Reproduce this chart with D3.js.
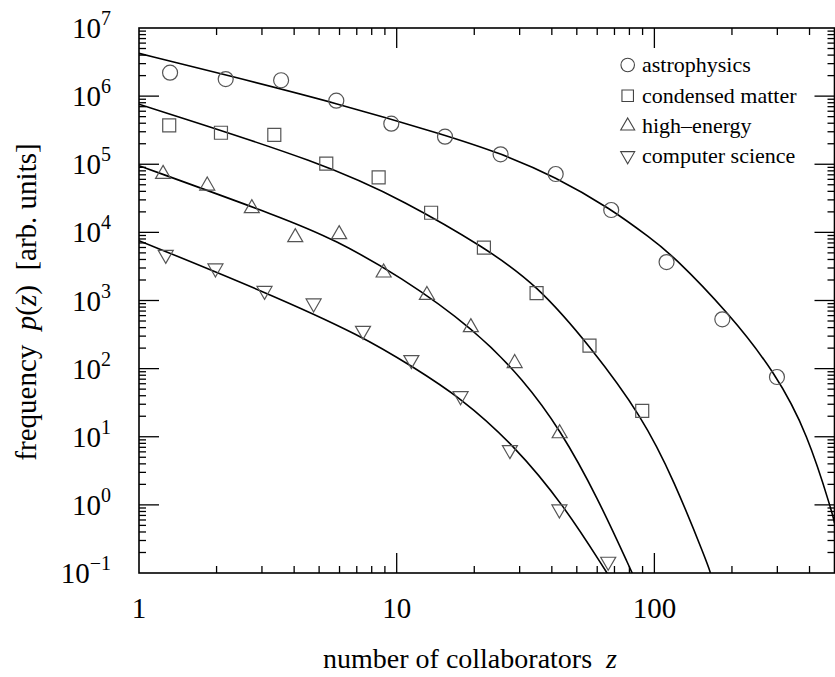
<!DOCTYPE html>
<html>
<head>
<meta charset="utf-8">
<script src="https://cdn.jsdelivr.net/npm/d3@7"></script>
<style>
  html, body { margin: 0; padding: 0; background: #fff; }
  svg { display: block; }
  text { font-family: "Liberation Serif", "Times New Roman", "DejaVu Serif", serif; fill: #000; }
</style>
</head>
<body>
<svg id="chart" width="835" height="677"></svg>
<script>
// ---------------- DATA ----------------
const seriesNames = ["astrophysics", "condensed matter", "high\u2013energy", "computer science"];

const astroZ = [1.32, 2.17, 3.56, 5.83, 9.53, 15.4, 25.3, 41.4, 68.0, 111.5, 183.5, 299];
const astroP = [2.21e6, 1.78e6, 1.71e6, 8.57e5, 3.94e5, 2.54e5, 1.40e5, 7.19e4, 2.13e4, 3.67e3, 530, 75.3];

const condZ = [1.31, 2.08, 3.35, 5.33, 8.51, 13.6, 21.8, 34.9, 56.0, 89.7];
const condP = [3.73e5, 2.90e5, 2.69e5, 1.02e5, 6.43e4, 1.94e4, 5.96e3, 1.28e3, 217, 23.9];

const heZ = [1.24, 1.84, 2.74, 4.04, 5.98, 8.90, 13.1, 19.4, 28.7, 42.9];
const heP = [7.19e4, 4.84e4, 2.26e4, 8.47e3, 9.37e3, 2.56e3, 1.20e3, 404, 120, 11.2];

const csZ = [1.27, 1.98, 3.07, 4.76, 7.40, 11.4, 17.7, 27.5, 42.8, 66.2];
const csP = [4.70e3, 2.97e3, 1.39e3, 910, 360, 134, 39.6, 6.39, 0.861, 0.147];

// fitted curves
const astroFitZ = [1, 2.18, 5.83, 15.4, 25.3, 41.3, 68.0, 96.7, 117.4, 194.8, 295.7, 392.6, 491, 500];
const astroFitP = [4.25e6, 2.04e6, 7.93e5, 2.69e5, 1.45e5, 6.56e4, 2.20e4, 8.18e3, 4.66e3, 649, 85.4, 11.2, 0.752, 0.54];

const condFitZ = [1, 5.33, 10.8, 21.8, 35.1, 56.5, 89.7, 119, 160.6, 165];
const condFitP = [7.59e5, 1.01e5, 2.82e4, 6.10e3, 1.69e3, 210, 19.7, 2.32, 0.139, 0.1];

const heFitZ = [1, 3.75, 5.69, 10.3, 20.2, 31.1, 43.2, 60.0, 82.1];
const heFitP = [9.52e4, 1.56e4, 7.91e3, 2.29e3, 369, 68.1, 12.6, 1.32, 0.099];

const csFitZ = [1, 3.07, 7.44, 11.5, 17.7, 28.5, 44.5, 65.6];
const csFitP = [7.55e3, 1.35e3, 294, 107, 37.7, 7.57, 0.995, 0.099];

const xTickValues = [1, 10, 100];
const xTickLabels = ["1", "10", "100"];
const yTickExponents = [-1, 0, 1, 2, 3, 4, 5, 6, 7];

// ---------------- CHART ----------------
const svg = d3.select("#chart");
const L = 139, R = 834.5, T = 28, B = 573;
const x = d3.scaleLog().domain([1, 500]).range([L, R]);
const y = d3.scaleLog().domain([0.1, 1e7]).range([B, T]);

svg.append("defs").append("clipPath").attr("id", "plotclip")
  .append("rect").attr("x", L).attr("y", T).attr("width", R - L).attr("height", B - T);

const isMajor = v => Math.abs(Math.log10(v) - Math.round(Math.log10(v))) < 1e-9;
const MAJ = 20, MIN = 7;

const axes = svg.append("g").attr("stroke", "#000").attr("stroke-width", 1.3);
// x ticks (bottom and top)
x.ticks().forEach(v => {
  const px = x(v), len = isMajor(v) ? MAJ : MIN;
  if (px <= L + 0.5 || px >= R - 0.5) return;
  axes.append("line").attr("x1", px).attr("x2", px).attr("y1", B).attr("y2", B - len);
  axes.append("line").attr("x1", px).attr("x2", px).attr("y1", T).attr("y2", T + len);
});
// y ticks (left and right)
y.ticks().forEach(v => {
  const py = y(v), len = isMajor(v) ? MAJ : MIN;
  if (py <= T + 0.5 || py >= B - 0.5) return;
  axes.append("line").attr("y1", py).attr("y2", py).attr("x1", L).attr("x2", L + len);
  axes.append("line").attr("y1", py).attr("y2", py).attr("x1", R).attr("x2", R - len);
});
// frame
svg.append("rect").attr("x", L).attr("y", T).attr("width", R - L).attr("height", B - T)
  .attr("fill", "none").attr("stroke", "#000").attr("stroke-width", 1.6);

// x tick labels
xTickValues.forEach((v, i) => {
  svg.append("text").attr("x", x(v)).attr("y", 618).attr("text-anchor", "middle")
    .attr("font-size", 29).text(xTickLabels[i]);
});
// y tick labels
yTickExponents.forEach(e => {
  const t = svg.append("text").attr("x", 111).attr("y", y(Math.pow(10, e)) + 10)
    .attr("text-anchor", "end").attr("font-size", 29);
  t.append("tspan").text("10");
  t.append("tspan").attr("dy", -13).attr("font-size", 20).text(e < 0 ? "\u2212" + Math.abs(e) : String(e));
});

// axis titles
const xt = svg.append("text").attr("x", 470).attr("y", 668).attr("text-anchor", "middle")
  .attr("font-size", 28);
xt.append("tspan").text("number of collaborators\u00a0\u00a0");
xt.append("tspan").attr("font-style", "italic").text("z");

const yt = svg.append("text").attr("transform", "translate(36,302) rotate(-90)")
  .attr("text-anchor", "middle").attr("font-size", 29);
yt.append("tspan").text("frequency\u00a0\u00a0");
yt.append("tspan").attr("font-style", "italic").text("p");
yt.append("tspan").text("(");
yt.append("tspan").attr("font-style", "italic").text("z");
yt.append("tspan").text(")\u00a0\u00a0[arb. units]");

// fitted curves
const line = d3.line().x(d => x(d[0])).y(d => y(d[1])).curve(d3.curveBasis);
const fits = [[astroFitZ, astroFitP], [condFitZ, condFitP], [heFitZ, heFitP], [csFitZ, csFitP]];
const curves = svg.append("g").attr("clip-path", "url(#plotclip)");
fits.forEach(([zs, ps]) => {
  curves.append("path").datum(zs.map((z, i) => [z, ps[i]]))
    .attr("d", line).attr("fill", "none").attr("stroke", "#000").attr("stroke-width", 1.6);
});

// marker shapes
function markerPath(kind, s) {
  if (kind === "circle") {
    const r = s / 2;
    return `M${r},0A${r},${r} 0 1,1 ${-r},0A${r},${r} 0 1,1 ${r},0Z`;
  }
  if (kind === "square") {
    const h = s / 2;
    return `M${-h},${-h}H${h}V${h}H${-h}Z`;
  }
  const h = s * Math.sqrt(3) / 2;
  if (kind === "up") return `M0,${-2 * h / 3}L${s / 2},${h / 3}L${-s / 2},${h / 3}Z`;
  return `M0,${2 * h / 3}L${s / 2},${-h / 3}L${-s / 2},${-h / 3}Z`;
}
const kinds = ["circle", "square", "up", "down"];
const sizes = [15, 13, 15, 15];
const dataSets = [[astroZ, astroP], [condZ, condP], [heZ, heP], [csZ, csP]];
const marks = svg.append("g");
dataSets.forEach(([zs, ps], k) => {
  marks.selectAll(null).data(zs.map((z, i) => [z, ps[i]])).join("path")
    .attr("transform", d => `translate(${x(d[0])},${y(d[1])})`)
    .attr("d", markerPath(kinds[k], sizes[k]))
    .attr("fill", "none").attr("stroke", "#555").attr("stroke-width", 1.2);
});

// legend
const legY = [65, 95.7, 126, 155.7];
const legendSizes = [13.5, 11.5, 14, 14];
const leg = svg.append("g");
seriesNames.forEach((name, k) => {
  leg.append("path").attr("transform", `translate(627.7,${legY[k]})`)
    .attr("d", markerPath(kinds[k], legendSizes[k]))
    .attr("fill", "none").attr("stroke", "#444").attr("stroke-width", 1.1);
  leg.append("text").attr("x", 642).attr("y", legY[k] + 7).attr("font-size", 22).text(name);
});
</script>
</body>
</html>
